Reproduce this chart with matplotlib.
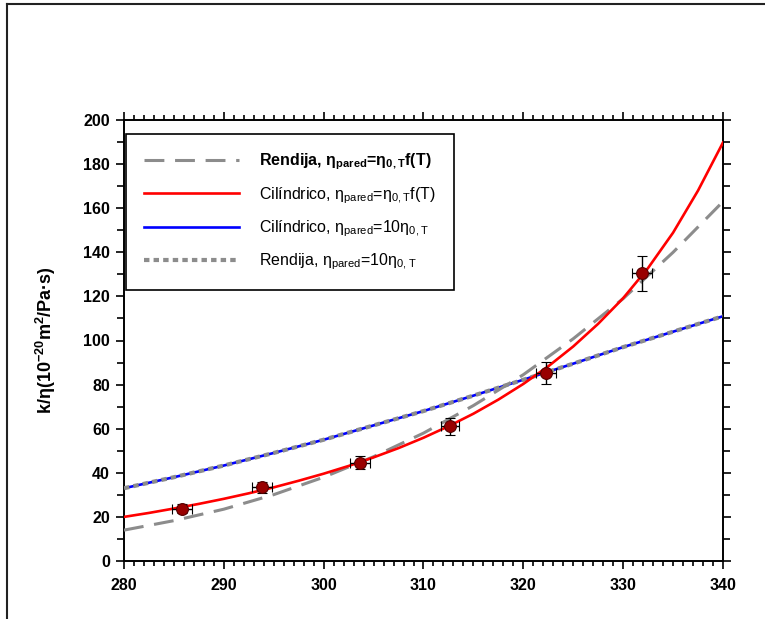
import numpy as np
import matplotlib
matplotlib.use('Agg')
import matplotlib.pyplot as plt
from matplotlib.ticker import MultipleLocator
from matplotlib.lines import Line2D

# temperature grids (K) for the model curves
T_fine = [280, 282.5, 285, 287.5, 290, 292.5, 295, 297.5, 300, 302.5, 305, 307.5, 310,
          312.5, 315, 317.5, 320, 322.5, 325, 327.5, 330, 332.5, 335, 337.5, 340]
T_coarse = [280, 285, 290, 295, 300, 305, 310, 315, 320, 325, 330, 335, 340]

# k/eta, 1e-20 m2/(Pa s)
cilindrico_f = [20.0, 21.8, 23.8, 25.9, 28.2, 30.7, 33.4, 36.4, 39.6, 43.1, 47.0, 51.2, 55.9,
                61.1, 66.8, 73.2, 80.3, 88.3, 97.3, 107.6, 119.2, 132.9, 148.9, 168.0, 189.8]
rendija_f = [14.0, 18.3, 23.5, 30.1, 38.0, 47.3, 58.0, 70.5, 84.5, 100.8, 119.0, 140.0, 163.0]
cilindrico_10 = [33.0, 38.0, 43.3, 49.0, 55.0, 61.5, 68.0, 75.0, 82.2, 89.5, 97.0, 104.0, 111.0]
rendija_10 = [33.0, 38.0, 43.3, 49.0, 55.0, 61.5, 68.0, 75.0, 82.2, 89.5, 97.0, 104.0, 111.0]

# experimental points
T_exp = [285.8, 293.8, 303.6, 312.7, 322.3, 331.9]
k_exp = [23.8, 33.5, 44.5, 61.0, 85.4, 130.5]
T_err = [1.0, 1.0, 1.0, 0.9, 1.0, 1.0]
k_err = [2.0, 2.5, 3.0, 4.0, 5.0, 8.0]

labels = ['Rendija, η$_\\mathregular{pared}$=η$_\\mathregular{0,T}$f(T)',
          'Cilíndrico, η$_\\mathregular{pared}$=η$_\\mathregular{0,T}$f(T)',
          'Cilíndrico, η$_\\mathregular{pared}$=10η$_\\mathregular{0,T}$',
          'Rendija, η$_\\mathregular{pared}$=10η$_\\mathregular{0,T}$']

plt.rcParams['font.family'] = ['Liberation Sans', 'DejaVu Sans']
plt.rcParams['mathtext.default'] = 'regular'

fig = plt.figure(figsize=(7.65, 6.19), dpi=100)
ax = fig.add_axes([124/765, 1 - 561/619, (723 - 124)/765, (561 - 120)/619])

gray = '#8c8c8c'
l_c10, = ax.plot(T_coarse, cilindrico_10, color='#0000ff', lw=1.9, zorder=2)
l_r10, = ax.plot(T_coarse, rendija_10, color=gray, lw=3.0, linestyle=(0, (1.3, 1.0)),
                 dash_capstyle='butt', zorder=3)
l_rf, = ax.plot(T_coarse, rendija_f, color=gray, lw=2.2, dashes=(6.5, 3.5), zorder=4)
l_cf, = ax.plot(T_fine, cilindrico_f, color='#ff0000', lw=1.9, zorder=5)

ax.errorbar(T_exp, k_exp, xerr=T_err, yerr=k_err, fmt='o', ms=8.5, mfc='#990000',
            mec='#550000', mew=0.8, ecolor='black', elinewidth=1.0, capsize=3.4,
            capthick=1.0, zorder=6)

ax.set_xlim(280, 340)
ax.set_ylim(0, 200)
ax.xaxis.set_major_locator(MultipleLocator(10))
ax.xaxis.set_minor_locator(MultipleLocator(1))
ax.yaxis.set_major_locator(MultipleLocator(20))
ax.yaxis.set_minor_locator(MultipleLocator(10))
ax.tick_params(which='both', direction='out', top=True, right=True, width=1.2, colors='black')
ax.tick_params(which='major', length=6)
ax.tick_params(which='minor', length=3.5)
ax.tick_params(axis='y', which='minor', length=5)
ax.tick_params(axis='y', which='major', length=6, labelsize=11.5, pad=4)
ax.tick_params(axis='x', which='major', labelsize=11.5, pad=6)
for lab in ax.get_yticklabels() + ax.get_xticklabels():
    lab.set_fontweight('bold')
for sp in ax.spines.values():
    sp.set_linewidth(1.4)

ax.set_ylabel('k/η(10$^{\\mathregular{-20}}$m$^\\mathregular{2}$/Pa·s)', fontsize=13,
              fontweight='bold', labelpad=18)

leg = ax.legend([l_rf, l_cf, l_c10, l_r10], labels, loc='upper left',
                bbox_to_anchor=(0.0033, 0.968), borderaxespad=0, fontsize=11.5,
                handlelength=6.0, handletextpad=1.25, labelspacing=0.8,
                borderpad=1.1, fancybox=False, shadow=False, framealpha=1,
                edgecolor='black')
leg.get_frame().set_linewidth(1.2)
leg.get_texts()[0].set_fontweight('bold')

# page frame
fig.add_artist(Line2D([7/765, 1], [1 - 4/619, 1 - 4/619], color='#222222', lw=1.5))
fig.add_artist(Line2D([7/765, 7/765], [0, 1 - 4/619], color='#222222', lw=1.5))

fig.savefig('out.png', dpi=100)
